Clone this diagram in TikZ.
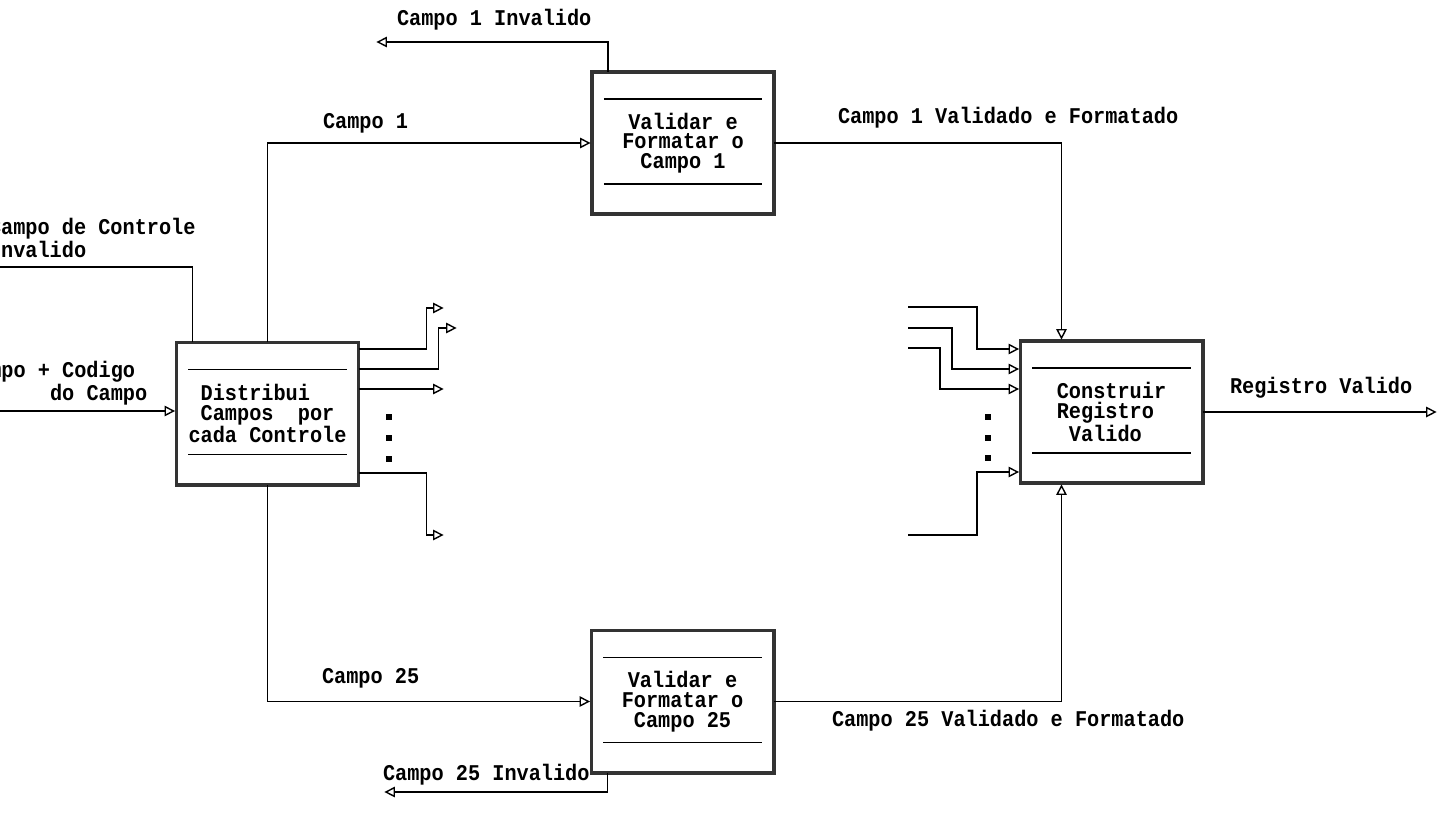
\documentclass[tikz,border=0pt]{standalone}
\usepackage{fontspec}
\newfontfamily\dosfont[FakeStretch=0.9]{Liberation Mono}
\usetikzlibrary{arrows.meta,calc}
\begin{document}
\begin{tikzpicture}[x=0.025cm,y=-0.025cm,
  txt/.style={font=\dosfont\bfseries\fontsize{16}{14}\selectfont, inner sep=0pt, outer sep=0pt},
  proc/.style={txt, draw=black!80, line width=2.8pt, minimum width=4.55cm, minimum height=3.55cm, fill=white},
  flow/.style={line width=1.3pt, shorten >=1pt, -{Triangle[open,length=7.5pt,width=7.5pt,line width=1pt]}},
  wire/.style={line width=1.3pt},
  sep/.style={line width=1.3pt},
  dot/.style={rectangle, fill=black, inner sep=0pt, minimum size=4pt}]
\useasboundingbox (0,0) rectangle (1450,818);
\clip (0,0) rectangle (1450,818);

% boxes
\node[proc, align=left] (L) at (267.5,413.5) {\hphantom{X}Distribui\\\hphantom{X}Campos\ \ por\\cada Controle};
\node[proc, align=center] (T) at (683,143) {Validar e\\Formatar o\\Campo 1};
\node[proc, align=center] (B) at (682.5,701.5) {Validar e\\Formatar o\\Campo 25};
\node[proc, align=left] (R) at (1111.5,412) {Construir\\Registro\\\hphantom{X}Valido};

\foreach \b in {L,T,B,R}{
  \draw[sep] ($(\b.north west)+(12,27)$) -- ($(\b.north east)+(-12,27)$);
  \draw[sep] ($(\b.south west)+(12,-30)$) -- ($(\b.south east)+(-12,-30)$);
}

% free ends
\coordinate (inL) at (-5,411);
\coordinate (ciEnd) at (-5,267);
\coordinate (c1inv) at (375,42);
\coordinate (c25inv) at (383,792);
\coordinate (regEnd) at (1438,412);
\coordinate (o1) at (445,308);
\coordinate (o2) at (458,328);
\coordinate (o3) at (445,389);
\coordinate (o4) at (445,535);
\coordinate (a1) at (908,307);
\coordinate (a2) at (908,328);
\coordinate (a3) at (908,348);
\coordinate (a4) at (908,535);

% connectors
\draw[flow] (inL) -- (inL -| L.west);
\draw[wire] ($(L.north west)+(16,0)$) |- (ciEnd);
\draw[flow] (L.north) |- (T.west);
\draw[flow] ($(T.north west)+(16,0)$) |- (c1inv);
\draw[flow] (T.east) -| ($(R.north)+(-50,0)$);
\draw[flow] (L.south) |- (B.west);
\draw[flow] ($(B.south west)+(16,0)$) |- (c25inv);
\draw[flow] (B.east) -| ($(R.south)+(-50,0)$);
\draw[flow] (R.east) -- (regEnd);

% fan out of L
\draw[flow] ($(L.east)+(0,-64.5)$) -- ++(68,0) |- (o1);
\draw[flow] ($(L.east)+(0,-44.5)$) -- ++(80,0) |- (o2);
\draw[flow] ($(L.east)+(0,-24.5)$) -- (o3);
\draw[flow] ($(L.east)+(0,59.5)$) -- ++(68,0) |- (o4);
\node[dot] (ld1) at (389,417) {};
\node[dot] (ld2) at (389,438) {};
\node[dot] (ld3) at (389,459) {};

% fan into R
\draw[flow] (a1) -- ++(69,0) |- ($(R.west)+(0,-63)$);
\draw[flow] (a2) -- ++(44,0) |- ($(R.west)+(0,-43)$);
\draw[flow] (a3) -- ++(32,0) |- ($(R.west)+(0,-23)$);
\draw[flow] (a4) -- ++(69,0) |- ($(R.west)+(0,60)$);
\node[dot] (rd1) at (988,417) {};
\node[dot] (rd2) at (988,438) {};
\node[dot] (rd3) at (988,458) {};

% labels
\node[txt, anchor=west, align=left] (lci) at (-11,238) {Campo de Controle\\[0pt]Invalido};
\node[txt, anchor=west, align=left] (lin) at (-35,383) {Campo + Codigo\\[0pt]\hphantom{XXXXXXX}do Campo};
\node[txt, anchor=west] (l1inv) at (397,20) {Campo 1 Invalido};
\node[txt, anchor=west] (l1) at (323,123) {Campo 1};
\node[txt, anchor=west] (l1ok) at (838,118) {Campo 1 Validado e Formatado};
\node[txt, anchor=west] (l25) at (322,678) {Campo 25};
\node[txt, anchor=west] (l25inv) at (383,775) {Campo 25 Invalido};
\node[txt, anchor=west] (l25ok) at (832,721) {Campo 25 Validado e Formatado};
\node[txt, anchor=west] (lreg) at (1230,388) {Registro Valido};
\end{tikzpicture}
\end{document}
